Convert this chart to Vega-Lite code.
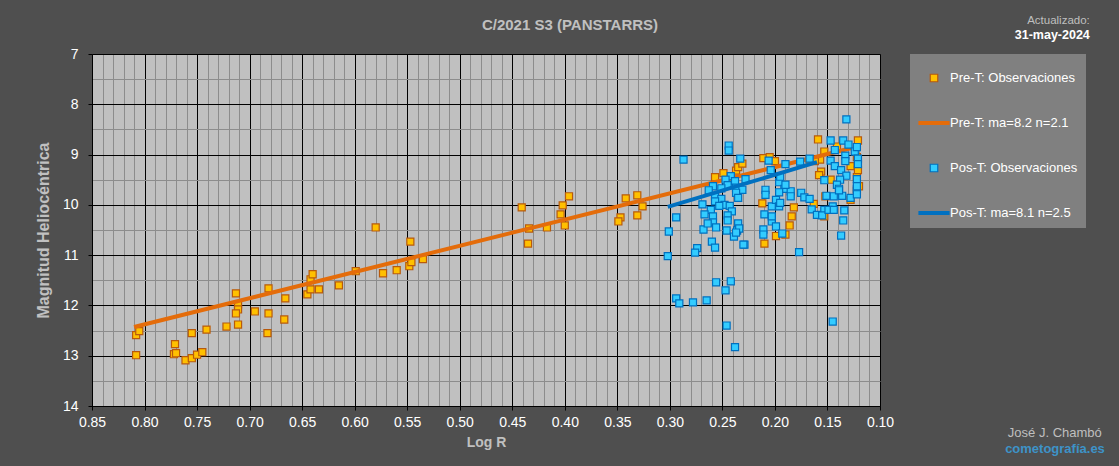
{
  "$schema": "https://vega.github.io/schema/vega-lite/v6.json",
  "description": "C/2021 S3 (PANSTARRS) heliocentric magnitude vs log R",
  "width": 788,
  "height": 352,
  "autosize": {"type": "none"},
  "padding": {"left": 92, "top": 54, "right": 239, "bottom": 60},
  "background": "#4f4f4f",
  "title": {
    "text": "C/2021 S3 (PANSTARRS)",
    "anchor": "middle",
    "dx": 84,
    "offset": -18,
    "font": "Liberation Sans",
    "fontSize": 15,
    "fontWeight": "bold",
    "color": "#c0c0c0"
  },
  "datasets": {
    "pre": [
      {"x":0.808,"y":12.59},{"x":0.805,"y":12.51},{"x":0.808,"y":12.99},{"x":0.771,"y":12.77},{"x":0.772,"y":12.97},
      {"x":0.770,"y":12.95},{"x":0.761,"y":13.09},{"x":0.755,"y":13.05},{"x":0.755,"y":12.55},{"x":0.750,"y":12.98},
      {"x":0.745,"y":12.93},{"x":0.741,"y":12.48},{"x":0.722,"y":12.42},{"x":0.713,"y":11.76},{"x":0.711,"y":11.98},
      {"x":0.711,"y":12.08},{"x":0.713,"y":12.16},{"x":0.711,"y":12.38},{"x":0.695,"y":12.12},{"x":0.682,"y":11.66},
      {"x":0.682,"y":12.16},{"x":0.683,"y":12.55},{"x":0.666,"y":11.86},{"x":0.667,"y":12.28},{"x":0.645,"y":11.78},
      {"x":0.642,"y":11.68},{"x":0.642,"y":11.48},{"x":0.640,"y":11.38},{"x":0.634,"y":11.68},{"x":0.615,"y":11.60},
      {"x":0.599,"y":11.32},{"x":0.580,"y":10.45},{"x":0.573,"y":11.36},{"x":0.560,"y":11.30},{"x":0.547,"y":10.73},
      {"x":0.548,"y":11.22},{"x":0.546,"y":11.14},{"x":0.535,"y":11.08},
      {"x":0.441,"y":10.05},{"x":0.434,"y":10.47},{"x":0.435,"y":10.77},{"x":0.417,"y":10.45},{"x":0.396,"y":9.83},
      {"x":0.402,"y":10.01},{"x":0.404,"y":10.19},{"x":0.400,"y":10.41},{"x":0.342,"y":9.87},{"x":0.331,"y":9.81},
      {"x":0.326,"y":10.03},{"x":0.331,"y":10.21},{"x":0.347,"y":10.25},{"x":0.349,"y":10.33},
      {"x":0.257,"y":9.45},{"x":0.249,"y":9.37},{"x":0.237,"y":9.32},{"x":0.235,"y":9.25},{"x":0.231,"y":9.18},
      {"x":0.211,"y":9.07},{"x":0.205,"y":9.05},{"x":0.200,"y":9.13},{"x":0.212,"y":9.97},{"x":0.210,"y":10.77},
      {"x":0.199,"y":10.62},{"x":0.190,"y":10.59},{"x":0.186,"y":10.41},{"x":0.184,"y":10.23},{"x":0.182,"y":10.05},
      {"x":0.163,"y":9.98},{"x":0.153,"y":10.23},{"x":0.159,"y":8.70},{"x":0.121,"y":8.72},{"x":0.153,"y":8.94},
      {"x":0.157,"y":9.10},{"x":0.156,"y":9.34},{"x":0.158,"y":9.41},{"x":0.147,"y":9.50},{"x":0.128,"y":9.23},
      {"x":0.121,"y":9.31},{"x":0.120,"y":9.63},{"x":0.128,"y":9.90},{"x":0.152,"y":9.83},{"x":0.141,"y":8.84},
      {"x":0.122,"y":9.05},{"x":0.122,"y":9.45},{"x":0.122,"y":9.72},{"x":0.162,"y":9.13},{"x":0.167,"y":9.10}
    ],
    "pos": [
      {"x":0.132,"y":8.30},{"x":0.244,"y":8.82},{"x":0.244,"y":8.92},{"x":0.287,"y":9.10},{"x":0.147,"y":8.72},
      {"x":0.135,"y":8.72},{"x":0.130,"y":8.80},{"x":0.143,"y":8.91},{"x":0.124,"y":8.94},{"x":0.122,"y":8.85},
      {"x":0.133,"y":9.02},{"x":0.121,"y":9.08},{"x":0.147,"y":9.12},{"x":0.133,"y":9.13},{"x":0.167,"y":9.08},
      {"x":0.176,"y":9.14},{"x":0.190,"y":9.19},{"x":0.206,"y":9.12},{"x":0.204,"y":9.31},{"x":0.233,"y":9.08},
      {"x":0.242,"y":9.43},{"x":0.247,"y":9.50},{"x":0.228,"y":9.49},{"x":0.238,"y":9.53},{"x":0.245,"y":9.61},
      {"x":0.259,"y":9.63},{"x":0.251,"y":9.67},{"x":0.263,"y":9.71},{"x":0.237,"y":9.66},{"x":0.231,"y":9.70},
      {"x":0.237,"y":9.76},{"x":0.235,"y":9.86},{"x":0.257,"y":9.83},{"x":0.251,"y":9.88},{"x":0.257,"y":9.93},
      {"x":0.269,"y":9.99},{"x":0.248,"y":10.00},{"x":0.243,"y":10.02},{"x":0.253,"y":10.02},{"x":0.261,"y":10.10},
      {"x":0.241,"y":10.13},{"x":0.267,"y":10.19},{"x":0.259,"y":10.23},{"x":0.245,"y":10.21},{"x":0.245,"y":10.31},
      {"x":0.259,"y":10.35},{"x":0.256,"y":10.45},{"x":0.268,"y":10.49},{"x":0.235,"y":10.37},{"x":0.236,"y":10.51},
      {"x":0.246,"y":10.51},{"x":0.239,"y":10.63},{"x":0.260,"y":10.73},{"x":0.257,"y":10.85},{"x":0.274,"y":10.86},
      {"x":0.276,"y":10.95},{"x":0.229,"y":10.79},{"x":0.294,"y":10.25},{"x":0.301,"y":10.53},{"x":0.302,"y":11.02},
      {"x":0.209,"y":9.70},{"x":0.209,"y":9.80},{"x":0.210,"y":10.19},{"x":0.203,"y":10.03},{"x":0.203,"y":10.33},
      {"x":0.211,"y":10.49},{"x":0.211,"y":10.59},{"x":0.143,"y":9.23},{"x":0.121,"y":9.19},{"x":0.137,"y":9.31},
      {"x":0.132,"y":9.42},{"x":0.122,"y":9.49},{"x":0.153,"y":9.51},{"x":0.138,"y":9.50},{"x":0.141,"y":9.60},
      {"x":0.139,"y":9.68},{"x":0.122,"y":9.68},{"x":0.196,"y":9.55},{"x":0.191,"y":9.68},{"x":0.196,"y":9.75},
      {"x":0.185,"y":9.73},{"x":0.175,"y":9.76},{"x":0.172,"y":9.85},{"x":0.167,"y":9.88},{"x":0.151,"y":9.82},
      {"x":0.144,"y":9.83},{"x":0.136,"y":9.82},{"x":0.128,"y":9.86},{"x":0.122,"y":9.79},{"x":0.199,"y":9.90},
      {"x":0.196,"y":10.03},{"x":0.165,"y":10.09},{"x":0.153,"y":10.10},{"x":0.145,"y":10.03},{"x":0.134,"y":10.11},
      {"x":0.160,"y":10.20},{"x":0.155,"y":10.21},{"x":0.203,"y":10.23},{"x":0.135,"y":10.31},{"x":0.199,"y":10.43},
      {"x":0.256,"y":11.54},{"x":0.242,"y":11.52},{"x":0.247,"y":11.70},{"x":0.294,"y":11.86},{"x":0.291,"y":11.96},
      {"x":0.278,"y":11.94},{"x":0.265,"y":11.90},{"x":0.246,"y":12.40},{"x":0.238,"y":12.83},{"x":0.145,"y":12.32},
      {"x":0.177,"y":10.94},{"x":0.230,"y":10.79},{"x":0.137,"y":10.61},{"x":0.193,"y":10.57},{"x":0.195,"y":9.96},
      {"x":0.195,"y":9.44},{"x":0.190,"y":9.60},{"x":0.185,"y":9.83},{"x":0.264,"y":10.37},{"x":0.234,"y":10.47},
      {"x":0.237,"y":10.55},{"x":0.149,"y":10.10},{"x":0.144,"y":10.10},{"x":0.139,"y":9.71},{"x":0.122,"y":9.63}
    ],
    "fitpre": [{"x":0.810,"y":12.43},{"x":0.127,"y":8.87}],
    "fitpos": [{"x":0.302,"y":10.04},{"x":0.160,"y":9.15}]
  },
  "layer": [
    {
      "data": {"name": "pre"},
      "mark": {"type": "point", "filled": true, "opacity": 1, "size": 800, "strokeWidth": 1.2},
      "encoding": {
        "x": {
          "field": "x", "type": "quantitative",
          "scale": {"domain": [0.1, 0.85], "reverse": true, "nice": false, "zero": false},
          "axis": {
            "title": "Log R",
            "values": [0.85,0.84,0.83,0.82,0.81,0.8,0.79,0.78,0.77,0.76,0.75,0.74,0.73,0.72,0.71,0.7,0.69,0.68,0.67,0.66,0.65,0.64,0.63,0.62,0.61,0.6,0.59,0.58,0.57,0.56,0.55,0.54,0.53,0.52,0.51,0.5,0.49,0.48,0.47,0.46,0.45,0.44,0.43,0.42,0.41,0.4,0.39,0.38,0.37,0.36,0.35,0.34,0.33,0.32,0.31,0.3,0.29,0.28,0.27,0.26,0.25,0.24,0.23,0.22,0.21,0.2,0.19,0.18,0.17,0.16,0.15,0.14,0.13,0.12,0.11,0.1],
            "labelExpr": "abs(datum.value*20-round(datum.value*20))<0.01 ? format(datum.value,'.2f') : ''",
            "gridColor": {"condition": {"test": "abs(datum.value*20-round(datum.value*20))<0.01", "value": "#000000"}, "value": "#8c8c8c"},
            "tickOpacity": {"condition": {"test": "abs(datum.value*20-round(datum.value*20))<0.01", "value": 1}, "value": 0},
            "labelPadding": 5, "titlePadding": 6
          }
        },
        "y": {
          "field": "y", "type": "quantitative",
          "scale": {"domain": [7, 14], "reverse": true, "nice": false, "zero": false},
          "axis": {
            "title": "Magnitud Heliocéntrica",
            "values": [7,7.5,8,8.5,9,9.5,10,10.5,11,11.5,12,12.5,13,13.5,14],
            "labelExpr": "datum.value%1==0 ? format(datum.value,'d') : ''",
            "gridColor": {"condition": {"test": "datum.value%1==0", "value": "#000000"}, "value": "#8c8c8c"},
            "tickOpacity": {"condition": {"test": "datum.value%1==0", "value": 1}, "value": 0},
            "labelPadding": 10, "titlePadding": 11, "titleFontSize": 16
          }
        },
        "fill": {
          "datum": "Pre-T: Observaciones",
          "type": "nominal",
          "scale": {
            "domain": ["Pre-T: Observaciones", "Pre-T: ma=8.2 n=2.1", "Pos-T: Observaciones", "Pos-T: ma=8.1 n=2.5"],
            "range": ["#ffc000", "#e46c0a", "#33ccff", "#0070c0"]
          },
          "legend": {
            "title": null,
            "orient": "none",
            "direction": "vertical",
            "legendX": 818,
            "legendY": 0,
            "fillColor": "#808080",
            "padding": 8,
            "symbolSize": 900,
            "symbolStrokeWidth": 1.2,
            "rowPadding": 22,
            "labelFont": "Liberation Sans",
            "labelFontSize": 13,
            "labelColor": "#ffffff",
            "labelOffset": 0,
            "labelLimit": 250
          }
        },
        "stroke": {
          "datum": "Pre-T: Observaciones",
          "type": "nominal",
          "scale": {
            "domain": ["Pre-T: Observaciones", "Pre-T: ma=8.2 n=2.1", "Pos-T: Observaciones", "Pos-T: ma=8.1 n=2.5"],
            "range": ["#b85a0c", "#e46c0a", "#0070c0", "#0070c0"]
          }
        },
        "shape": {
          "datum": "Pre-T: Observaciones",
          "type": "nominal",
          "scale": {
            "domain": ["Pre-T: Observaciones", "Pre-T: ma=8.2 n=2.1", "Pos-T: Observaciones", "Pos-T: ma=8.1 n=2.5"],
            "range": ["M-0.25,-0.25H0.25V0.25H-0.25Z", "M-1,-0.09H1V0.09H-1Z", "M-0.25,-0.25H0.25V0.25H-0.25Z", "M-1,-0.09H1V0.09H-1Z"]
          }
        }
      }
    },
    {
      "data": {"name": "fitpre"},
      "mark": {"type": "line", "strokeWidth": 4},
      "encoding": {
        "x": {
          "field": "x", "type": "quantitative",
          "scale": {"domain": [0.1, 0.85], "reverse": true, "nice": false, "zero": false},
          "axis": {
            "title": "Log R",
            "values": [0.85,0.84,0.83,0.82,0.81,0.8,0.79,0.78,0.77,0.76,0.75,0.74,0.73,0.72,0.71,0.7,0.69,0.68,0.67,0.66,0.65,0.64,0.63,0.62,0.61,0.6,0.59,0.58,0.57,0.56,0.55,0.54,0.53,0.52,0.51,0.5,0.49,0.48,0.47,0.46,0.45,0.44,0.43,0.42,0.41,0.4,0.39,0.38,0.37,0.36,0.35,0.34,0.33,0.32,0.31,0.3,0.29,0.28,0.27,0.26,0.25,0.24,0.23,0.22,0.21,0.2,0.19,0.18,0.17,0.16,0.15,0.14,0.13,0.12,0.11,0.1],
            "labelExpr": "abs(datum.value*20-round(datum.value*20))<0.01 ? format(datum.value,'.2f') : ''",
            "gridColor": {"condition": {"test": "abs(datum.value*20-round(datum.value*20))<0.01", "value": "#000000"}, "value": "#8c8c8c"},
            "tickOpacity": {"condition": {"test": "abs(datum.value*20-round(datum.value*20))<0.01", "value": 1}, "value": 0},
            "labelPadding": 5, "titlePadding": 6
          }
        },
        "y": {
          "field": "y", "type": "quantitative",
          "scale": {"domain": [7, 14], "reverse": true, "nice": false, "zero": false},
          "axis": {
            "title": "Magnitud Heliocéntrica",
            "values": [7,7.5,8,8.5,9,9.5,10,10.5,11,11.5,12,12.5,13,13.5,14],
            "labelExpr": "datum.value%1==0 ? format(datum.value,'d') : ''",
            "gridColor": {"condition": {"test": "datum.value%1==0", "value": "#000000"}, "value": "#8c8c8c"},
            "tickOpacity": {"condition": {"test": "datum.value%1==0", "value": 1}, "value": 0},
            "labelPadding": 10, "titlePadding": 11, "titleFontSize": 16
          }
        },
        "stroke": {"datum": "Pre-T: ma=8.2 n=2.1", "type": "nominal"}
      }
    },
    {
      "data": {"name": "pos"},
      "mark": {"type": "point", "filled": true, "opacity": 1, "size": 800, "strokeWidth": 1.2},
      "encoding": {
        "x": {
          "field": "x", "type": "quantitative",
          "scale": {"domain": [0.1, 0.85], "reverse": true, "nice": false, "zero": false},
          "axis": {
            "title": "Log R",
            "values": [0.85,0.84,0.83,0.82,0.81,0.8,0.79,0.78,0.77,0.76,0.75,0.74,0.73,0.72,0.71,0.7,0.69,0.68,0.67,0.66,0.65,0.64,0.63,0.62,0.61,0.6,0.59,0.58,0.57,0.56,0.55,0.54,0.53,0.52,0.51,0.5,0.49,0.48,0.47,0.46,0.45,0.44,0.43,0.42,0.41,0.4,0.39,0.38,0.37,0.36,0.35,0.34,0.33,0.32,0.31,0.3,0.29,0.28,0.27,0.26,0.25,0.24,0.23,0.22,0.21,0.2,0.19,0.18,0.17,0.16,0.15,0.14,0.13,0.12,0.11,0.1],
            "labelExpr": "abs(datum.value*20-round(datum.value*20))<0.01 ? format(datum.value,'.2f') : ''",
            "gridColor": {"condition": {"test": "abs(datum.value*20-round(datum.value*20))<0.01", "value": "#000000"}, "value": "#8c8c8c"},
            "tickOpacity": {"condition": {"test": "abs(datum.value*20-round(datum.value*20))<0.01", "value": 1}, "value": 0},
            "labelPadding": 5, "titlePadding": 6
          }
        },
        "y": {
          "field": "y", "type": "quantitative",
          "scale": {"domain": [7, 14], "reverse": true, "nice": false, "zero": false},
          "axis": {
            "title": "Magnitud Heliocéntrica",
            "values": [7,7.5,8,8.5,9,9.5,10,10.5,11,11.5,12,12.5,13,13.5,14],
            "labelExpr": "datum.value%1==0 ? format(datum.value,'d') : ''",
            "gridColor": {"condition": {"test": "datum.value%1==0", "value": "#000000"}, "value": "#8c8c8c"},
            "tickOpacity": {"condition": {"test": "datum.value%1==0", "value": 1}, "value": 0},
            "labelPadding": 10, "titlePadding": 11, "titleFontSize": 16
          }
        },
        "fill": {"datum": "Pos-T: Observaciones", "type": "nominal"},
        "stroke": {"datum": "Pos-T: Observaciones", "type": "nominal"},
        "shape": {"datum": "Pos-T: Observaciones", "type": "nominal"}
      }
    },
    {
      "data": {"name": "fitpos"},
      "mark": {"type": "line", "strokeWidth": 4},
      "encoding": {
        "x": {
          "field": "x", "type": "quantitative",
          "scale": {"domain": [0.1, 0.85], "reverse": true, "nice": false, "zero": false},
          "axis": {
            "title": "Log R",
            "values": [0.85,0.84,0.83,0.82,0.81,0.8,0.79,0.78,0.77,0.76,0.75,0.74,0.73,0.72,0.71,0.7,0.69,0.68,0.67,0.66,0.65,0.64,0.63,0.62,0.61,0.6,0.59,0.58,0.57,0.56,0.55,0.54,0.53,0.52,0.51,0.5,0.49,0.48,0.47,0.46,0.45,0.44,0.43,0.42,0.41,0.4,0.39,0.38,0.37,0.36,0.35,0.34,0.33,0.32,0.31,0.3,0.29,0.28,0.27,0.26,0.25,0.24,0.23,0.22,0.21,0.2,0.19,0.18,0.17,0.16,0.15,0.14,0.13,0.12,0.11,0.1],
            "labelExpr": "abs(datum.value*20-round(datum.value*20))<0.01 ? format(datum.value,'.2f') : ''",
            "gridColor": {"condition": {"test": "abs(datum.value*20-round(datum.value*20))<0.01", "value": "#000000"}, "value": "#8c8c8c"},
            "tickOpacity": {"condition": {"test": "abs(datum.value*20-round(datum.value*20))<0.01", "value": 1}, "value": 0},
            "labelPadding": 5, "titlePadding": 6
          }
        },
        "y": {
          "field": "y", "type": "quantitative",
          "scale": {"domain": [7, 14], "reverse": true, "nice": false, "zero": false},
          "axis": {
            "title": "Magnitud Heliocéntrica",
            "values": [7,7.5,8,8.5,9,9.5,10,10.5,11,11.5,12,12.5,13,13.5,14],
            "labelExpr": "datum.value%1==0 ? format(datum.value,'d') : ''",
            "gridColor": {"condition": {"test": "datum.value%1==0", "value": "#000000"}, "value": "#8c8c8c"},
            "tickOpacity": {"condition": {"test": "datum.value%1==0", "value": 1}, "value": 0},
            "labelPadding": 10, "titlePadding": 11, "titleFontSize": 16
          }
        },
        "stroke": {"datum": "Pos-T: ma=8.1 n=2.5", "type": "nominal"}
      }
    },
    {
      "data": {"values": [{}]},
      "mark": {"type": "text", "text": "Actualizado:", "align": "right", "baseline": "middle", "font": "Liberation Sans", "fontSize": 11.5, "color": "#bfbfbf"},
      "encoding": {
        "x": {
          "datum": -0.0997, "type": "quantitative",
          "scale": {"domain": [0.1, 0.85], "reverse": true, "nice": false, "zero": false},
          "axis": {
            "title": "Log R",
            "values": [0.85,0.84,0.83,0.82,0.81,0.8,0.79,0.78,0.77,0.76,0.75,0.74,0.73,0.72,0.71,0.7,0.69,0.68,0.67,0.66,0.65,0.64,0.63,0.62,0.61,0.6,0.59,0.58,0.57,0.56,0.55,0.54,0.53,0.52,0.51,0.5,0.49,0.48,0.47,0.46,0.45,0.44,0.43,0.42,0.41,0.4,0.39,0.38,0.37,0.36,0.35,0.34,0.33,0.32,0.31,0.3,0.29,0.28,0.27,0.26,0.25,0.24,0.23,0.22,0.21,0.2,0.19,0.18,0.17,0.16,0.15,0.14,0.13,0.12,0.11,0.1],
            "labelExpr": "abs(datum.value*20-round(datum.value*20))<0.01 ? format(datum.value,'.2f') : ''",
            "gridColor": {"condition": {"test": "abs(datum.value*20-round(datum.value*20))<0.01", "value": "#000000"}, "value": "#8c8c8c"},
            "tickOpacity": {"condition": {"test": "abs(datum.value*20-round(datum.value*20))<0.01", "value": 1}, "value": 0},
            "labelPadding": 5, "titlePadding": 6
          }
        },
        "y": {
          "datum": 6.35, "type": "quantitative",
          "scale": {"domain": [7, 14], "reverse": true, "nice": false, "zero": false},
          "axis": {
            "title": "Magnitud Heliocéntrica",
            "values": [7,7.5,8,8.5,9,9.5,10,10.5,11,11.5,12,12.5,13,13.5,14],
            "labelExpr": "datum.value%1==0 ? format(datum.value,'d') : ''",
            "gridColor": {"condition": {"test": "datum.value%1==0", "value": "#000000"}, "value": "#8c8c8c"},
            "tickOpacity": {"condition": {"test": "datum.value%1==0", "value": 1}, "value": 0},
            "labelPadding": 10, "titlePadding": 11, "titleFontSize": 16
          }
        }
      }
    },
    {
      "data": {"values": [{}]},
      "mark": {"type": "text", "text": "31-may-2024", "align": "right", "baseline": "middle", "font": "Liberation Sans", "fontSize": 12.5, "fontWeight": "bold", "color": "#ffffff"},
      "encoding": {
        "x": {
          "datum": -0.0997, "type": "quantitative",
          "scale": {"domain": [0.1, 0.85], "reverse": true, "nice": false, "zero": false},
          "axis": {
            "title": "Log R",
            "values": [0.85,0.84,0.83,0.82,0.81,0.8,0.79,0.78,0.77,0.76,0.75,0.74,0.73,0.72,0.71,0.7,0.69,0.68,0.67,0.66,0.65,0.64,0.63,0.62,0.61,0.6,0.59,0.58,0.57,0.56,0.55,0.54,0.53,0.52,0.51,0.5,0.49,0.48,0.47,0.46,0.45,0.44,0.43,0.42,0.41,0.4,0.39,0.38,0.37,0.36,0.35,0.34,0.33,0.32,0.31,0.3,0.29,0.28,0.27,0.26,0.25,0.24,0.23,0.22,0.21,0.2,0.19,0.18,0.17,0.16,0.15,0.14,0.13,0.12,0.11,0.1],
            "labelExpr": "abs(datum.value*20-round(datum.value*20))<0.01 ? format(datum.value,'.2f') : ''",
            "gridColor": {"condition": {"test": "abs(datum.value*20-round(datum.value*20))<0.01", "value": "#000000"}, "value": "#8c8c8c"},
            "tickOpacity": {"condition": {"test": "abs(datum.value*20-round(datum.value*20))<0.01", "value": 1}, "value": 0},
            "labelPadding": 5, "titlePadding": 6
          }
        },
        "y": {
          "datum": 6.62, "type": "quantitative",
          "scale": {"domain": [7, 14], "reverse": true, "nice": false, "zero": false},
          "axis": {
            "title": "Magnitud Heliocéntrica",
            "values": [7,7.5,8,8.5,9,9.5,10,10.5,11,11.5,12,12.5,13,13.5,14],
            "labelExpr": "datum.value%1==0 ? format(datum.value,'d') : ''",
            "gridColor": {"condition": {"test": "datum.value%1==0", "value": "#000000"}, "value": "#8c8c8c"},
            "tickOpacity": {"condition": {"test": "datum.value%1==0", "value": 1}, "value": 0},
            "labelPadding": 10, "titlePadding": 11, "titleFontSize": 16
          }
        }
      }
    },
    {
      "data": {"values": [{}]},
      "mark": {"type": "text", "text": "José J. Chambó", "align": "right", "baseline": "middle", "font": "Liberation Sans", "fontSize": 13, "color": "#bfbfbf"},
      "encoding": {
        "x": {
          "datum": -0.1111, "type": "quantitative",
          "scale": {"domain": [0.1, 0.85], "reverse": true, "nice": false, "zero": false},
          "axis": {
            "title": "Log R",
            "values": [0.85,0.84,0.83,0.82,0.81,0.8,0.79,0.78,0.77,0.76,0.75,0.74,0.73,0.72,0.71,0.7,0.69,0.68,0.67,0.66,0.65,0.64,0.63,0.62,0.61,0.6,0.59,0.58,0.57,0.56,0.55,0.54,0.53,0.52,0.51,0.5,0.49,0.48,0.47,0.46,0.45,0.44,0.43,0.42,0.41,0.4,0.39,0.38,0.37,0.36,0.35,0.34,0.33,0.32,0.31,0.3,0.29,0.28,0.27,0.26,0.25,0.24,0.23,0.22,0.21,0.2,0.19,0.18,0.17,0.16,0.15,0.14,0.13,0.12,0.11,0.1],
            "labelExpr": "abs(datum.value*20-round(datum.value*20))<0.01 ? format(datum.value,'.2f') : ''",
            "gridColor": {"condition": {"test": "abs(datum.value*20-round(datum.value*20))<0.01", "value": "#000000"}, "value": "#8c8c8c"},
            "tickOpacity": {"condition": {"test": "abs(datum.value*20-round(datum.value*20))<0.01", "value": 1}, "value": 0},
            "labelPadding": 5, "titlePadding": 6
          }
        },
        "y": {
          "datum": 14.53, "type": "quantitative",
          "scale": {"domain": [7, 14], "reverse": true, "nice": false, "zero": false},
          "axis": {
            "title": "Magnitud Heliocéntrica",
            "values": [7,7.5,8,8.5,9,9.5,10,10.5,11,11.5,12,12.5,13,13.5,14],
            "labelExpr": "datum.value%1==0 ? format(datum.value,'d') : ''",
            "gridColor": {"condition": {"test": "datum.value%1==0", "value": "#000000"}, "value": "#8c8c8c"},
            "tickOpacity": {"condition": {"test": "datum.value%1==0", "value": 1}, "value": 0},
            "labelPadding": 10, "titlePadding": 11, "titleFontSize": 16
          }
        }
      }
    },
    {
      "data": {"values": [{}]},
      "mark": {"type": "text", "text": "cometografía.es", "align": "right", "baseline": "middle", "font": "Liberation Sans", "fontSize": 13, "fontWeight": "bold", "color": "#3d93c8"},
      "encoding": {
        "x": {
          "datum": -0.114, "type": "quantitative",
          "scale": {"domain": [0.1, 0.85], "reverse": true, "nice": false, "zero": false},
          "axis": {
            "title": "Log R",
            "values": [0.85,0.84,0.83,0.82,0.81,0.8,0.79,0.78,0.77,0.76,0.75,0.74,0.73,0.72,0.71,0.7,0.69,0.68,0.67,0.66,0.65,0.64,0.63,0.62,0.61,0.6,0.59,0.58,0.57,0.56,0.55,0.54,0.53,0.52,0.51,0.5,0.49,0.48,0.47,0.46,0.45,0.44,0.43,0.42,0.41,0.4,0.39,0.38,0.37,0.36,0.35,0.34,0.33,0.32,0.31,0.3,0.29,0.28,0.27,0.26,0.25,0.24,0.23,0.22,0.21,0.2,0.19,0.18,0.17,0.16,0.15,0.14,0.13,0.12,0.11,0.1],
            "labelExpr": "abs(datum.value*20-round(datum.value*20))<0.01 ? format(datum.value,'.2f') : ''",
            "gridColor": {"condition": {"test": "abs(datum.value*20-round(datum.value*20))<0.01", "value": "#000000"}, "value": "#8c8c8c"},
            "tickOpacity": {"condition": {"test": "abs(datum.value*20-round(datum.value*20))<0.01", "value": 1}, "value": 0},
            "labelPadding": 5, "titlePadding": 6
          }
        },
        "y": {
          "datum": 14.85, "type": "quantitative",
          "scale": {"domain": [7, 14], "reverse": true, "nice": false, "zero": false},
          "axis": {
            "title": "Magnitud Heliocéntrica",
            "values": [7,7.5,8,8.5,9,9.5,10,10.5,11,11.5,12,12.5,13,13.5,14],
            "labelExpr": "datum.value%1==0 ? format(datum.value,'d') : ''",
            "gridColor": {"condition": {"test": "datum.value%1==0", "value": "#000000"}, "value": "#8c8c8c"},
            "tickOpacity": {"condition": {"test": "datum.value%1==0", "value": 1}, "value": 0},
            "labelPadding": 10, "titlePadding": 11, "titleFontSize": 16
          }
        }
      }
    }
  ],
  "config": {
    "view": {"fill": "#c0c0c0", "stroke": null},
    "font": "Liberation Sans",
    "axis": {
      "domainColor": "#000000",
      "domainWidth": 1,
      "tickColor": "#000000",
      "tickSize": 4,
      "gridWidth": 1,
      "labelColor": "#ffffff",
      "labelFont": "Liberation Sans",
      "labelFontSize": 14,
      "labelOverlap": false,
      "labelFlush": false,
      "titleColor": "#c0c0c0",
      "titleFont": "Liberation Sans",
      "titleFontSize": 14,
      "titleFontWeight": "bold"
    }
  }
}
